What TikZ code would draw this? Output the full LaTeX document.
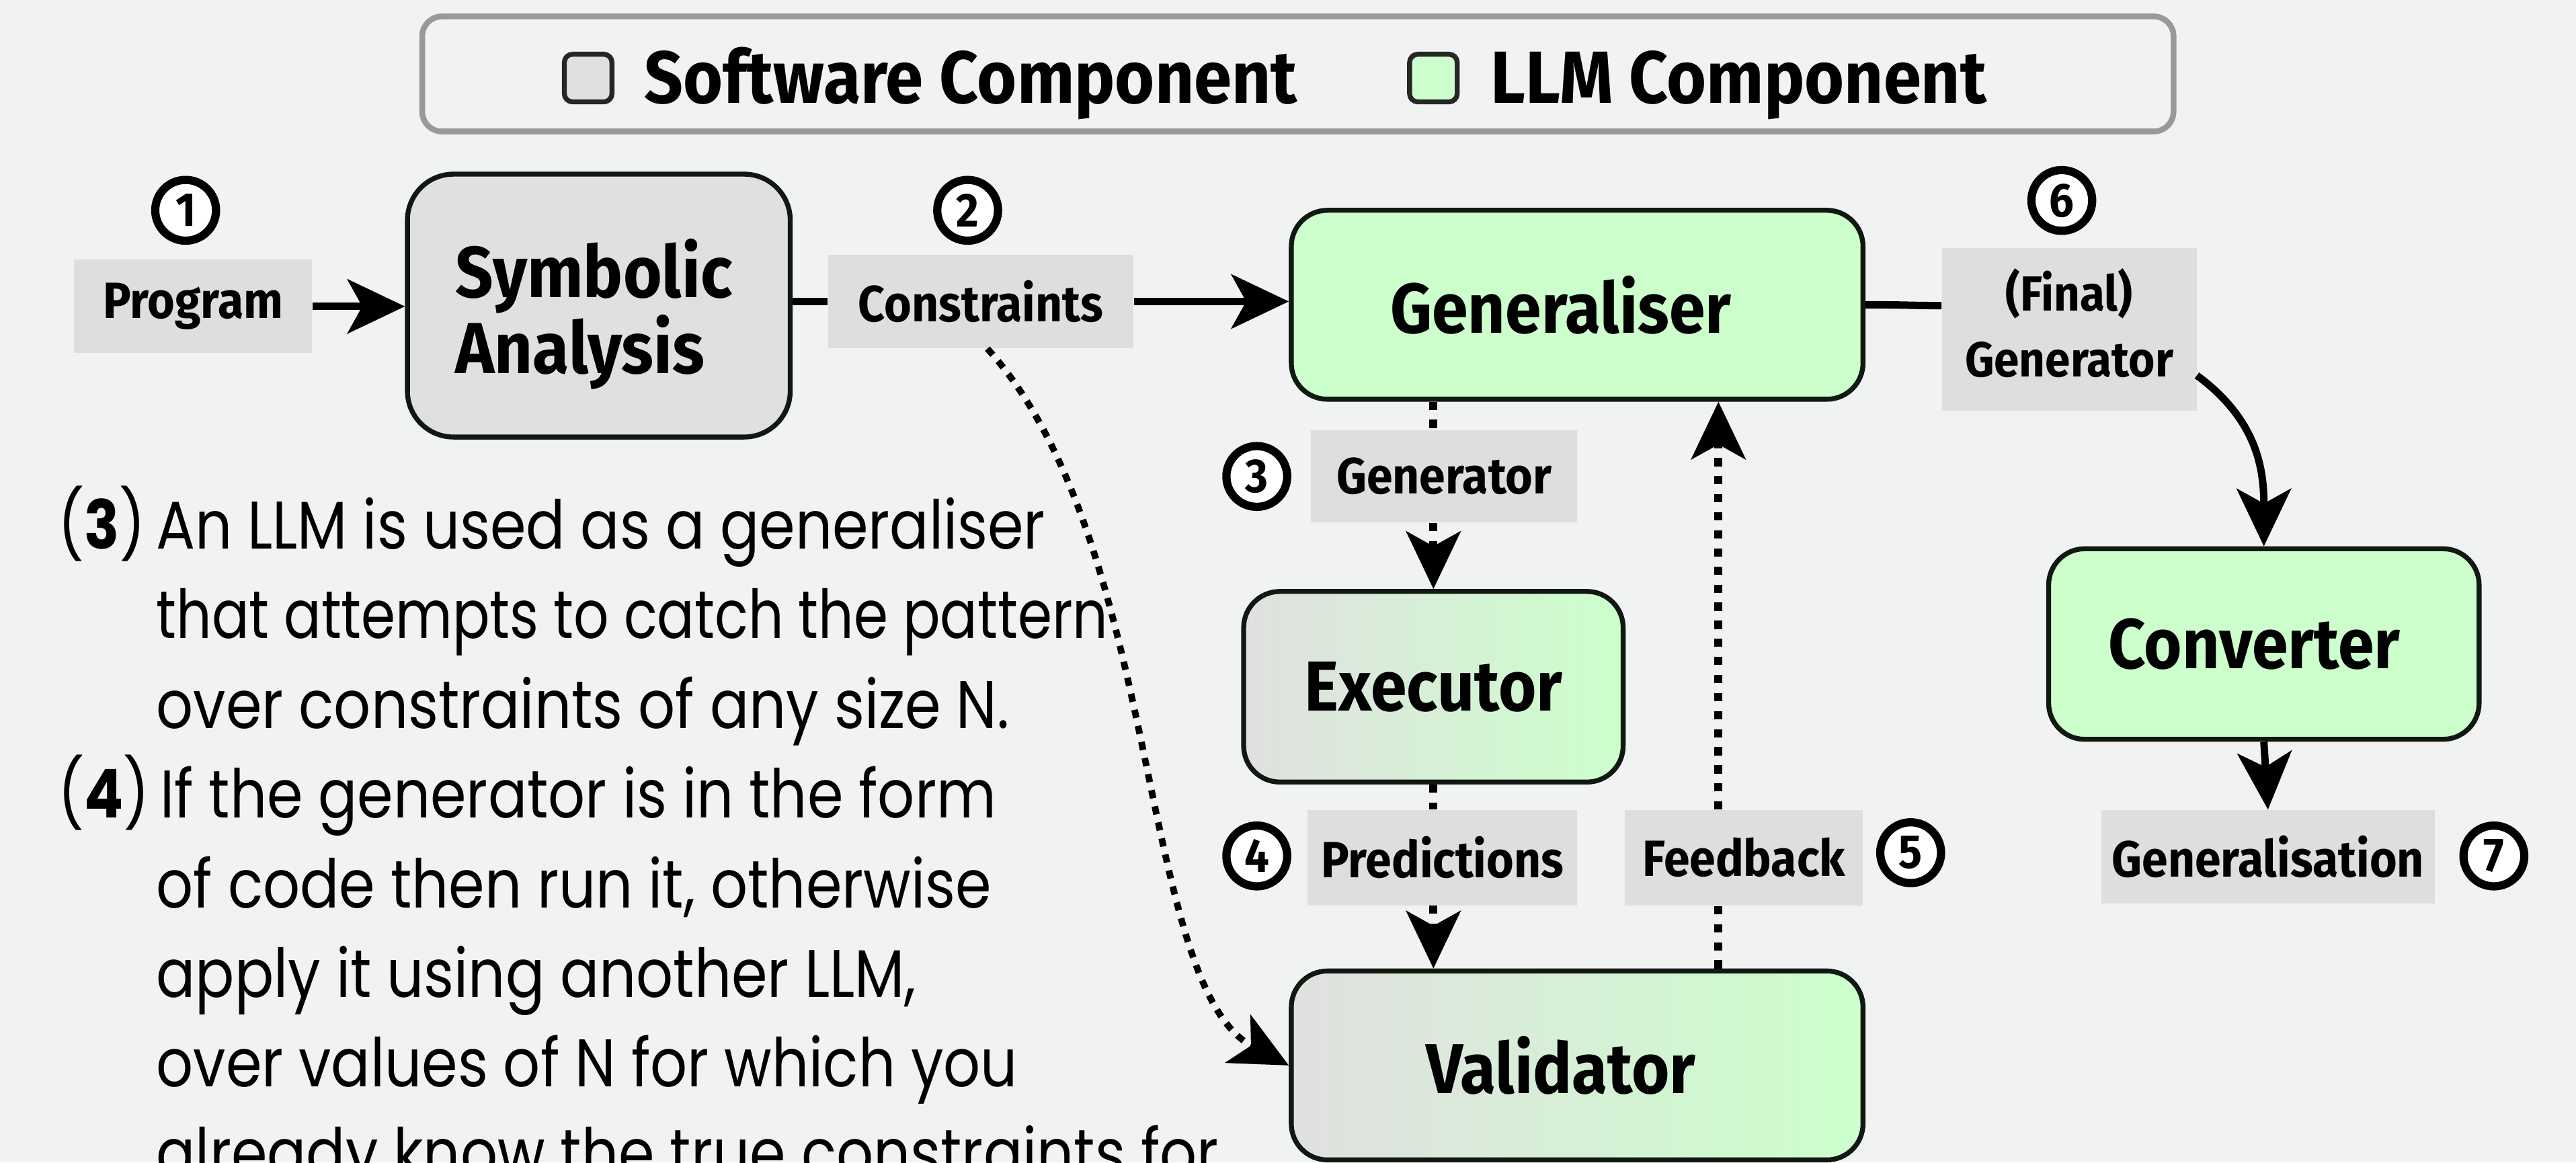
\documentclass[tikz,border=0pt]{standalone}
\usepackage{fontspec}
\usetikzlibrary{arrows.meta,calc}
\newfontfamily\boxfont[FakeStretch=0.92]{Fira Sans}
\newfontfamily\bodyfont[FakeStretch=0.86]{Poppins}
\newfontfamily\bodyfontn[FakeStretch=0.82]{Poppins}
\definecolor{bg}{HTML}{F1F3F2}
\definecolor{swfill}{HTML}{E0E0E0}
\definecolor{llm}{HTML}{CCFFCC}
\definecolor{lblfill}{HTML}{DEDEDE}
\definecolor{boxline}{HTML}{111811}
\definecolor{leggray}{HTML}{999999}
\tikzset{
  box/.style={draw=boxline, line width=3pt, rounded corners=22pt, inner sep=0pt,
    font=\boxfont\bfseries\fontsize{43}{48}\selectfont},
  swbox/.style={box, fill=swfill},
  llmbox/.style={box, fill=llm},
  mixbox/.style={box, left color=swfill, right color=llm},
  lbl/.style={fill=lblfill, inner sep=0pt, font=\boxfont\bfseries\fontsize{31}{36}\selectfont},
  num/.style={circle, draw=black, fill=white, line width=5pt, minimum size=37pt, inner sep=0pt,
    font=\boxfont\bfseries\fontsize{29}{30}\selectfont},
  tip/.style={-{Stealth[length=35pt,width=33pt,inset=9pt]}},
  solidln/.style={line width=4.5pt, draw=black},
  dotln/.style={line width=5pt, dash pattern=on 5pt off 6pt},
  curvln/.style={line width=4pt, dash pattern=on 5pt off 5pt},
  body/.style={anchor=base west, inner sep=0pt, font=\bodyfont\fontsize{41}{46}\selectfont},
  legtext/.style={anchor=base west, inner sep=0pt, font=\boxfont\bfseries\fontsize{45}{50}\selectfont},
  swatch/.style={draw=black!85, line width=3pt, rounded corners=5pt, minimum size=29pt, inner sep=0pt}
}
\begin{document}
\begin{tikzpicture}[x=1pt,y=-1pt]
\useasboundingbox (0,0) rectangle (1568,707.5);
\clip (0,0) rectangle (1568,707.5);
\fill[bg] (0,0) rectangle (1568,707.5);

% legend
\node[draw=leggray, line width=3.5pt, rounded corners=12pt, minimum width=1066pt, minimum height=70pt, inner sep=0pt] (leg) at (790,45) {};
\node[swatch, fill=swfill] (sq1) at (358,47.5) {};
\node[legtext] (lt1) at (392,63) {Software Component};
\node[swatch, fill=llm] (sq2) at (872.5,47.5) {};
\node[legtext] (lt2) at (907,63) {LLM Component};

% boxes
\node[swbox, minimum width=233pt, minimum height=160pt, rounded corners=28pt] (sa) at (364.5,186) {};
\node[anchor=north west, inner sep=0pt, align=left, font=\boxfont\bfseries\fontsize{44}{46.3}\selectfont] (satext) at (277,145) {Symbolic\\Analysis};
\node[llmbox, minimum width=348pt, minimum height=115pt] (gz) at (960,185.5) {\hspace*{-20pt}Generaliser};
\node[mixbox, minimum width=231pt, minimum height=116pt] (ex) at (872.5,418) {Executor};
\node[mixbox, minimum width=348pt, minimum height=115pt] (val) at (960,648.5) {\hspace*{-20pt}Validator};
\node[llmbox, minimum width=262pt, minimum height=116pt] (conv) at (1378,392) {\hspace*{-12pt}Converter};

% labels
\node[lbl, minimum width=145pt, minimum height=57pt] (prog) at (117.5,186.5) {Program};
\node[lbl, minimum width=186pt, minimum height=57pt] (cons) at (597,183.5) {Constraints};
\node[lbl, minimum width=162pt, minimum height=56pt] (gl) at (879,290) {Generator};
\node[lbl, minimum width=164pt, minimum height=58pt] (pl) at (878,522) {Predictions};
\node[lbl, minimum width=145pt, minimum height=58pt] (fb) at (1061.5,522) {Feedback};
\node[lbl, minimum width=155pt, minimum height=99pt, align=center, font=\boxfont\bfseries\fontsize{30}{40}\selectfont] (fin) at (1259.5,200.5) {(Final)\\Generator\rule[-8pt]{0pt}{8pt}};
\node[lbl, minimum width=203pt, minimum height=57pt] (genz) at (1380.5,521.5) {Generalisation};

% numbers
\node[num] (n1) at (113,128) {1};
\node[num] (n2) at (589,128) {2};
\node[num] (n3) at (765,290) {3};
\node[num] (n4) at (765,521) {4};
\node[num] (n5) at (1163,519) {5};
\node[num] (n6) at (1255,122) {6};
\node[num] (n7) at (1518,521) {7};

% connectors
\coordinate (fbx) at (1046,0);
\draw[solidln, tip] (prog.east) -- (prog.east -| sa.west);
\draw[solidln] (sa.east |- cons.west) -- (cons.west);
\draw[solidln, tip] (cons.east) -- (cons.east -| gz.west);
\draw[dotln] (gz.south -| ex.north) -- (gl.north -| ex.north);
\draw[dotln, tip] (gl.south -| ex.north) -- (ex.north);
\draw[dotln] (ex.south) -- (pl.north -| ex.north);
\draw[dotln, tip] (pl.south -| ex.north) -- (val.north -| ex.north);
\draw[dotln] (val.north -| fbx) -- (fb.south -| fbx);
\draw[dotln, tip] (fb.north -| fbx) -- (gz.south -| fbx);
\draw[curvln, tip] ($(cons.south)+(4,0)$) .. controls (708,330) and (692,600) .. (val.west);
\draw[solidln] (gz.east) .. controls +(25,0) and +(-20,0) .. ($(fin.west)+(0,-14.5)$);
\draw[solidln, tip] ($(fin.east)+(0,28)$) .. controls +(38,28) and +(0,-45) .. (conv.north);
\draw[solidln, tip] (conv.south) -- (genz.north);

% body text
\node[body] (t1) at (35,334) {(\textbf{3})\kern-3pt{} An LLM is used as a generaliser};
\node[body, font=\bodyfontn\fontsize{41}{46}\selectfont] (t2) at (95,388.6) {that attempts to catch the pattern};
\node[body] (t3) at (95,443.2) {over constraints of any size N.};
\node[body] (t4) at (35,497.8) {(\textbf{4})\kern-3pt{} If the generator is in the form};
\node[body] (t5) at (95,552.4) {of code then run it, otherwise};
\node[body] (t6) at (95,607) {apply it using another LLM,};
\node[body] (t7) at (95,661.6) {over values of N for which you};
\node[body] (t8) at (95,716.2) {already know the true constraints for};
\end{tikzpicture}
\end{document}
